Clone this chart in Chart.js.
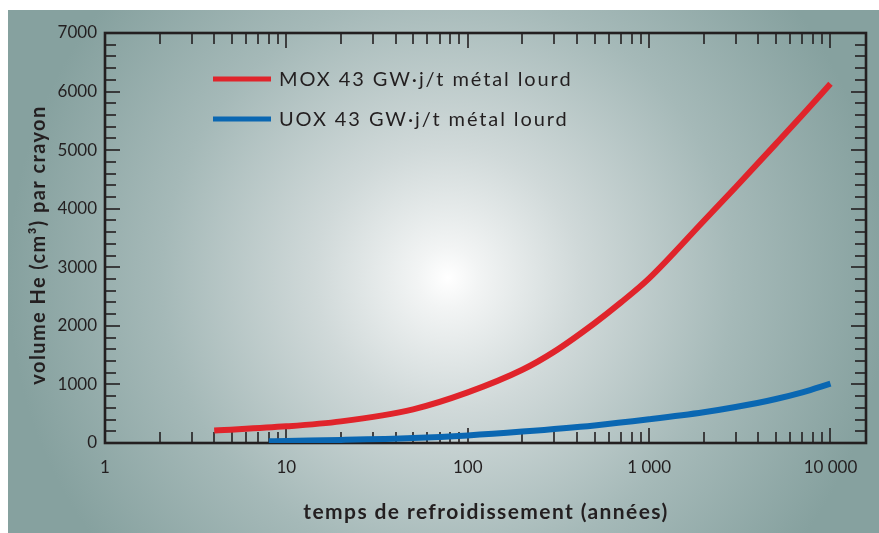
<!DOCTYPE html>
<html>
<head>
<meta charset="utf-8">
<script src="https://cdn.jsdelivr.net/npm/chart.js@4.4.1/dist/chart.umd.min.js"></script>
<style>
  html, body { margin: 0; padding: 0; background: #fff; }
</style>
</head>
<body>
<canvas id="mycanvas" width="879" height="533"></canvas>
<script>
// values (years, cm3 per rod)
var moxYears  = [4, 10, 20, 50, 100, 200, 300, 500, 700, 1000, 2000, 3000, 5000, 7000, 10000];
var moxVolume = [215, 284, 369, 575, 864, 1250, 1560, 2045, 2400, 2810, 3790, 4366, 5107, 5600, 6135];
var uoxYears  = [8, 10, 20, 50, 100, 200, 500, 1000, 2000, 3000, 5000, 7000, 10000];
var uoxVolume = [30, 36, 52, 85, 130, 195, 300, 405, 525, 614, 751, 864, 1012];

var seriesLabels = ['MOX 43 GW\u00b7j/t métal lourd', 'UOX 43 GW\u00b7j/t métal lourd'];
var seriesColors = ['#e0242b', '#0a67b2'];

var xTickValues = [1, 10, 100, 1000, 10000];
var xTickLabels = ['1', '10', '100', '1 000', '10 000'];
var xMinorTicks = [2, 3, 4, 5, 6, 7, 8, 9, 20, 30, 40, 50, 60, 70, 80, 90, 200, 300, 400, 500, 600, 700, 800, 900, 2000, 3000, 4000, 5000, 6000, 7000, 8000, 9000];
var yTickValues = [0, 1000, 2000, 3000, 4000, 5000, 6000, 7000];
var yMinorTicks = [200, 400, 600, 800, 1200, 1400, 1600, 1800, 2200, 2400, 2600, 2800, 3200, 3400, 3600, 3800, 4200, 4400, 4600, 4800, 5200, 5400, 5600, 5800, 6200, 6400, 6600, 6800];

var xTitle = 'temps de refroidissement (années)';
var yTitle = 'volume He (cm\u00b3) par crayon';

var FONT = 'Lato, "Open Sans", sans-serif';
var INK = '#231f20';

function toPoints(xs, ys) {
  var pts = [];
  for (var i = 0; i < xs.length; i++) pts.push({x: xs[i], y: ys[i]});
  return pts;
}

// radial background
var backdrop = {
  id: 'backdrop',
  beforeDraw: function(chart) {
    var ctx = chart.ctx;
    ctx.save();
    ctx.fillStyle = '#ffffff';
    ctx.fillRect(0, 0, chart.width, chart.height);
    var g = ctx.createRadialGradient(448, 278, 0, 448, 278, 440);
    g.addColorStop(0, '#ffffff');
    g.addColorStop(0.07, '#f2f4f4');
    g.addColorStop(0.3, '#d0d9d9');
    g.addColorStop(0.65, '#a5b9b8');
    g.addColorStop(1, '#86a19f');
    ctx.fillStyle = g;
    ctx.fillRect(8, 10, chart.width - 8, chart.height - 10);
    ctx.restore();
  }
};

// box frame with inward ticks on all four sides
var frame = {
  id: 'frame',
  beforeDatasetsDraw: function(chart) {
    var ctx = chart.ctx, a = chart.chartArea;
    var xs = chart.scales.x, ys = chart.scales.y;
    ctx.save();
    ctx.strokeStyle = INK;
    ctx.lineWidth = 1.6;
    function tick(x1, y1, x2, y2) {
      ctx.beginPath(); ctx.moveTo(x1, y1); ctx.lineTo(x2, y2); ctx.stroke();
    }
    xTickValues.forEach(function(v) {
      var px = Math.round(xs.getPixelForValue(v));
      tick(px, a.bottom, px, a.bottom - 15);
      tick(px, a.top, px, a.top + 15);
    });
    xMinorTicks.forEach(function(v) {
      var px = Math.round(xs.getPixelForValue(v));
      tick(px, a.bottom, px, a.bottom - 11);
      tick(px, a.top, px, a.top + 11);
    });
    yTickValues.forEach(function(v) {
      var py = Math.round(ys.getPixelForValue(v));
      tick(a.left, py, a.left + 15, py);
      tick(a.right, py, a.right - 15, py);
    });
    yMinorTicks.forEach(function(v) {
      var py = Math.round(ys.getPixelForValue(v));
      tick(a.left, py, a.left + 11, py);
      tick(a.right, py, a.right - 11, py);
    });
    ctx.lineWidth = 2.6;
    ctx.strokeRect(a.left, a.top, a.right - a.left, a.bottom - a.top);
    ctx.restore();
  }
};

// legend inside the plot + axis titles (need letter spacing, so drawn here)
var texts = {
  id: 'texts',
  afterDraw: function(chart) {
    var ctx = chart.ctx;
    ctx.save();
    chart.data.datasets.forEach(function(ds, i) {
      var y = 79 + i * 40;
      ctx.strokeStyle = ds.borderColor;
      ctx.lineWidth = 5;
      ctx.beginPath(); ctx.moveTo(213, y); ctx.lineTo(271, y); ctx.stroke();
      ctx.fillStyle = INK;
      ctx.font = '20px ' + FONT;
      ctx.letterSpacing = '1.9px';
      ctx.textBaseline = 'middle';
      ctx.textAlign = 'left';
      ctx.fillText(ds.label, 279, y + 1);
    });

    ctx.font = 'bold 21px ' + FONT;
    ctx.letterSpacing = '1.4px';
    ctx.textAlign = 'center';
    ctx.textBaseline = 'middle';
    ctx.fillText(xTitle, 486, 512);

    ctx.font = 'bold 20px ' + FONT;
    ctx.translate(39, 245);
    ctx.rotate(-Math.PI / 2);
    ctx.fillText(yTitle, 0, 0);
    ctx.restore();
  }
};

var ctx = document.getElementById('mycanvas');
var chart = new Chart(ctx, {
  type: 'line',
  data: {
    datasets: [
      {
        label: seriesLabels[0],
        data: toPoints(moxYears, moxVolume),
        borderColor: seriesColors[0],
        backgroundColor: seriesColors[0],
        borderWidth: 6,
        pointRadius: 0,
        cubicInterpolationMode: 'monotone',
        borderCapStyle: 'butt'
      },
      {
        label: seriesLabels[1],
        data: toPoints(uoxYears, uoxVolume),
        borderColor: seriesColors[1],
        backgroundColor: seriesColors[1],
        borderWidth: 6,
        pointRadius: 0,
        cubicInterpolationMode: 'monotone',
        borderCapStyle: 'butt'
      }
    ]
  },
  options: {
    responsive: false,
    animation: false,
    layout: { padding: { top: 33, right: 13, left: 0, bottom: 0 } },
    plugins: {
      legend: { display: false },
      tooltip: { enabled: false }
    },
    scales: {
      x: {
        type: 'logarithmic',
        min: 1,
        max: 15700,
        grid: { display: false, drawTicks: false },
        border: { display: false },
        afterBuildTicks: function(scale) {
          scale.ticks = xTickValues.map(function(v) { return {value: v}; });
        },
        afterFit: function(scale) { scale.height = 90; },
        ticks: {
          autoSkip: false,
          maxRotation: 0,
          padding: 14,
          color: INK,
          font: { family: FONT, size: 17 },
          callback: function(value) {
            var i = xTickValues.indexOf(value);
            return i >= 0 ? xTickLabels[i] : '';
          }
        }
      },
      y: {
        min: 0,
        max: 7000,
        grid: { display: false, drawTicks: false },
        border: { display: false },
        afterBuildTicks: function(scale) {
          scale.ticks = yTickValues.map(function(v) { return {value: v}; });
        },
        afterFit: function(scale) { scale.width = 105; },
        ticks: {
          padding: 8,
          color: INK,
          font: { family: FONT, size: 17 },
          callback: function(value) { return String(value); }
        }
      }
    }
  },
  plugins: [backdrop, frame, texts]
});
</script>
</body>
</html>
